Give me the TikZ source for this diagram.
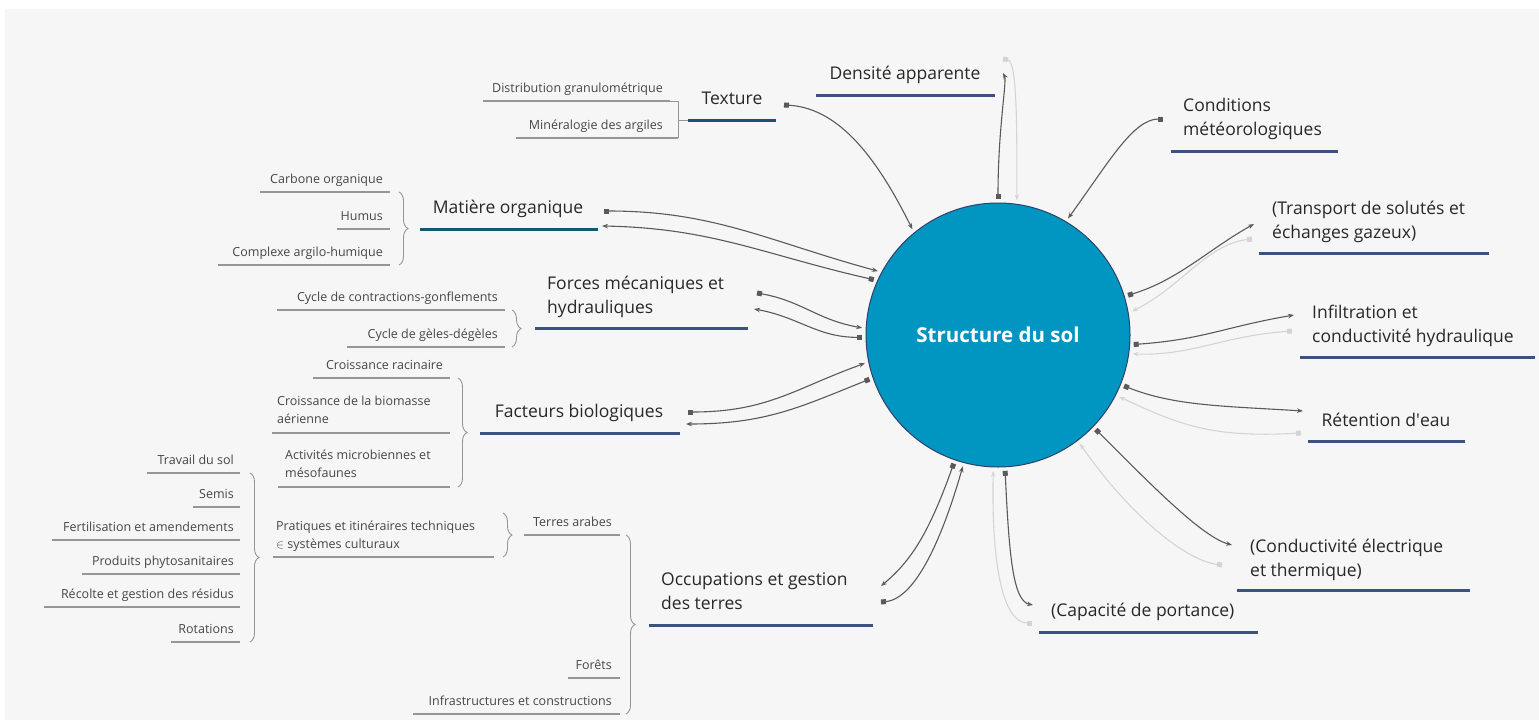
\documentclass[tikz,border=0pt]{standalone}
\usepackage{fontspec}
\setmainfont{Open Sans}
\usepackage{xcolor}
\usetikzlibrary{arrows.meta,decorations.pathreplacing}

\definecolor{bgcol}{RGB}{246,246,246}
\definecolor{soilblue}{RGB}{0,150,193}
\definecolor{soilline}{RGB}{45,65,105}
\definecolor{navyline}{RGB}{60,82,128}
\definecolor{tealline}{RGB}{20,88,112}
\definecolor{linkdark}{RGB}{90,90,90}
\definecolor{linklight}{RGB}{212,212,212}
\definecolor{subgray}{RGB}{150,150,150}
\definecolor{maintext}{RGB}{40,40,40}
\definecolor{subtext}{RGB}{70,70,70}

\tikzset{
  topic/.style={inner sep=0pt, text=maintext, font=\fontsize{17.5}{24}\selectfont, align=left},
  subtopic/.style={inner sep=0pt, text=subtext, font=\fontsize{12.5}{18}\selectfont, align=left},
  mainline/.style={line width=3pt, draw=navyline},
  subline/.style={line width=1.3pt, draw=subgray},
  bracebar/.style={draw=subgray, line width=0.9pt, decorate, decoration={brace, amplitude=9pt}},
  link/.style={draw=linkdark, line width=1.1pt, {Square[length=5pt,width=5pt]}-{Stealth[length=6pt,width=4.5pt]}},
  ghost/.style={link, draw=linklight},
}

\begin{document}
\begin{tikzpicture}[x=1pt, y=-1pt]
  \fill[white] (0,0) rectangle (1539,720);
  \fill[bgcol] (5,9) rectangle (1539,720);
  \useasboundingbox (0,0) rectangle (1539,720);

  \node[circle, draw=soilline, line width=1pt, fill=soilblue, minimum size=264pt, outer sep=4pt,
    text=white, font=\fontsize{20.5}{24}\selectfont\bfseries] (soil) at (998,335) {Structure du sol};

  % topics on the left
  \node[topic, anchor=base] (texture) at (732,104) {Texture};
  \draw[mainline, draw=tealline] (688,120) -- (776,120);
  \node[topic, anchor=base] (matiere) at (508,213) {Matière organique};
  \draw[mainline, draw=tealline] (420,229) -- (598,229);
  \node[topic, anchor=base west] (forces) at (547,313) {Forces mécaniques et\\hydrauliques};
  \draw[mainline] (535,328) -- (748,328);
  \node[topic, anchor=base] (facteurs) at (579,417) {Facteurs biologiques};
  \draw[mainline] (480,433) -- (680,433);
  \node[topic, anchor=base west] (occupation) at (661,609) {Occupations et gestion\\des terres};
  \draw[mainline] (649,625) -- (873,625);

  % topics on the right
  \node[topic, anchor=base] (densite) at (905,79) {Densité apparente};
  \draw[mainline] (816,95) -- (995,95);
  \node[topic, anchor=base west] (conditions) at (1183,135) {Conditions\\météorologiques};
  \draw[mainline] (1171,151) -- (1338,151);
  \node[topic, anchor=base west] (transport) at (1272,238) {(Transport de solutés et\\échanges gazeux)};
  \draw[mainline] (1259,253) -- (1489,253);
  \node[topic, anchor=base west] (infiltration) at (1312,342) {Infiltration et\\conductivité hydraulique};
  \draw[mainline] (1300,357) -- (1535,357);
  \node[topic, anchor=base] (retention) at (1386,426) {Rétention d\textquotesingle eau};
  \draw[mainline] (1308,441) -- (1465,441);
  \node[topic, anchor=base west] (conductivite) at (1250,576) {(Conductivité électrique\\et thermique)};
  \draw[mainline] (1237,590) -- (1470,590);
  \node[topic, anchor=base west] (capacite) at (1051,616) {(Capacité de portance)};
  \draw[mainline] (1039,632) -- (1258,632);

  % sub topics
  \node[subtopic, anchor=base east] (texture-1) at (663,92) {Distribution granulométrique};
  \draw[subline] (483,101) -- (670,101);
  \node[subtopic, anchor=base east] (texture-2) at (663,129) {Minéralogie des argiles};
  \draw[subline] (516,138) -- (678,138);
  \draw[draw=subgray, line width=0.9pt] (670,101) -| (678,138);
  \draw[draw=subgray, line width=0.9pt] (678,120) -- (688,120);

  \foreach \txt/\xl/\yl [count=\i] in {Carbone organique/260/192, Humus/337/229, Complexe argilo-humique/218/265} {
    \node[subtopic, anchor=base east] (matiere-\i) at (383,\yl-9) {\txt};
    \draw[subline] (\xl,\yl) -- (390,\yl);
  }
  \draw[bracebar] (399,192) -- (399,265);

  \foreach \txt/\xl/\yl [count=\i] in {Cycle de contractions-gonflements/277/310, Cycle de gèles-dégèles/347/347} {
    \node[subtopic, anchor=base east] (forces-\i) at (498,\yl-9) {\txt};
    \draw[subline] (\xl,\yl) -- (505,\yl);
  }
  \draw[bracebar] (512,310) -- (512,347);

  \node[subtopic, anchor=base east] (facteurs-1) at (443,369) {Croissance racinaire};
  \draw[subline] (313,378) -- (450,378);
  \node[subtopic, anchor=base west] (facteurs-2) at (277,423) {Croissance de la biomasse\\aérienne};
  \draw[subline] (272,433) -- (450,433);
  \node[subtopic, anchor=base west] (facteurs-3) at (285,477) {Activités microbiennes et\\mésofaunes};
  \draw[subline] (278,487) -- (450,487);
  \draw[bracebar] (458,378) -- (458,487);

  \foreach \txt/\xl/\yl [count=\i] in {Terres arabes/524/535, Forêts/568/678, Infrastructures et constructions/413/714} {
    \node[subtopic, anchor=base east] (occupation-\i) at (612,\yl-9) {\txt};
    \draw[subline] (\xl,\yl) -- (620,\yl);
  }
  \draw[bracebar] (626,535) -- (626,714);

  \node[subtopic, anchor=base west] (pratiques) at (276,548) {Pratiques et itinéraires techniques\\$\in$ systèmes culturaux};
  \draw[subline] (273,557) -- (494,557);
  \draw[bracebar] (503,513) -- (503,557);

  \foreach \txt/\xl/\yl [count=\i] in {Travail du sol/147/473, Semis/193/507, Fertilisation et amendements/52/540,
      Produits phytosanitaires/82/574, Récolte et gestion des résidus/44/607, Rotations/171/642} {
    \node[subtopic, anchor=base east] (pratiques-\i) at (234,\yl-9) {\txt};
    \draw[subline] (\xl,\yl) -- (240,\yl);
  }
  \draw[bracebar] (250,473) -- (250,642);

  % links to the soil structure
  \coordinate (texture-a) at (784,105);
  \coordinate (matiere-a) at (604,211);
  \coordinate (matiere-b) at (602,226);
  \coordinate (forces-a) at (757,293);
  \coordinate (forces-b) at (754,309);
  \coordinate (facteurs-a) at (688,412);
  \coordinate (facteurs-b) at (686,424);
  \coordinate (occupation-a) at (881,602);
  \coordinate (occupation-b) at (881,586);
  \coordinate (densite-a) at (1003,73);
  \coordinate (densite-b) at (1003,59);
  \coordinate (conditions-a) at (1163,119);
  \coordinate (transport-a) at (1254,224);
  \coordinate (transport-b) at (1252,239);
  \coordinate (infiltration-a) at (1294,315);
  \coordinate (infiltration-b) at (1292,331);
  \coordinate (retention-a) at (1303,411);
  \coordinate (retention-b) at (1301,433);
  \coordinate (conductivite-a) at (1232,545);
  \coordinate (conductivite-b) at (1222,565);
  \coordinate (capacite-a) at (1033,605);
  \coordinate (capacite-b) at (1032,623);

  \draw[link] (texture-a) .. controls +(60,3) and +(-30,-60) .. (soil.129);
  \draw[link] (matiere-a) .. controls +(110,0) and +(-110,-30) .. (soil.152);
  \draw[link] (soil.156) .. controls +(-110,-25) and +(110,2) .. (matiere-b);
  \draw[link] (forces-a) .. controls +(45,8) and +(-45,-8) .. (soil.177);
  \draw[link] (soil.181) .. controls +(-45,0) and +(45,8) .. (forces-b);
  \draw[link] (facteurs-a) .. controls +(80,0) and +(-70,25) .. (soil.192);
  \draw[link] (soil.199) .. controls +(-70,28) and +(80,0) .. (facteurs-b);
  \draw[link] (soil.251) .. controls +(-25,70) and +(30,-25) .. (occupation-b);
  \draw[link] (occupation-a) .. controls +(35,-3) and +(-20,70) .. (soil.255);

  \draw[link] (soil.90) .. controls +(0,-70) and +(4,8) .. (densite-a);
  \draw[ghost] (densite-b) .. controls +(14,2) and +(0,-80) .. (soil.82);
  \draw[link] (conditions-a) .. controls +(-30,0) and +(40,-55) .. (soil.59);
  \draw[link] (soil.17) .. controls +(50,-15) and +(-45,25) .. (transport-a);
  \draw[ghost] (transport-b) .. controls +(-45,5) and +(50,-25) .. (soil.10);
  \draw[link] (soil.356) .. controls +(70,-5) and +(-70,12) .. (infiltration-a);
  \draw[ghost] (infiltration-b) .. controls +(-70,5) and +(60,2) .. (soil.352);
  \draw[link] (soil.338) .. controls +(50,20) and +(-80,-5) .. (retention-a);
  \draw[ghost] (retention-b) .. controls +(-90,5) and +(60,28) .. (soil.333);
  \draw[link] (soil.316) .. controls +(55,55) and +(-30,-8) .. (conductivite-a);
  \draw[ghost] (conductivite-b) .. controls +(-40,-5) and +(45,65) .. (soil.307);
  \draw[link] (soil.273) .. controls +(4,85) and +(-20,-4) .. (capacite-a);
  \draw[ghost] (capacite-b) .. controls +(-30,0) and +(-2,90) .. (soil.268);
\end{tikzpicture}
\end{document}
